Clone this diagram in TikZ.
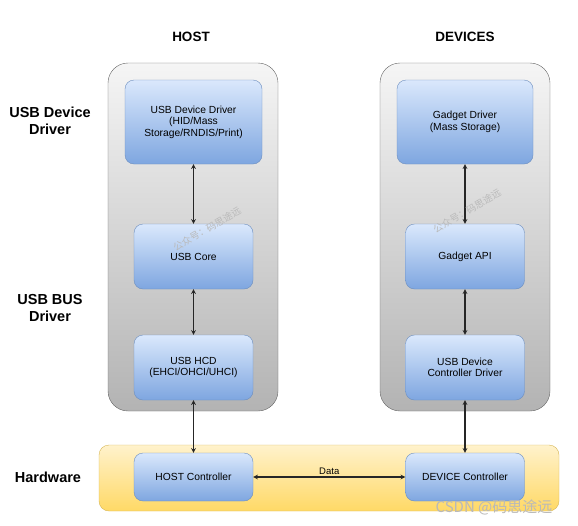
\documentclass[tikz,border=0pt]{standalone}
\usepackage{fontspec}
\setmainfont{Liberation Sans}
\newfontfamily\cjk{Noto Sans CJK SC}

\definecolor{blocktop}{HTML}{DAE8FC}
\definecolor{blockbottom}{HTML}{7EA6E0}
\definecolor{blockline}{HTML}{6C8EBF}
\definecolor{hwtop}{HTML}{FFF2CC}
\definecolor{hwbottom}{HTML}{FFD966}
\definecolor{hwline}{HTML}{D6B656}
\definecolor{layertop}{HTML}{F5F5F5}
\definecolor{layerbottom}{HTML}{B3B3B3}
\definecolor{layerline}{HTML}{666666}

\tikzset{
    layer/.style={draw=layerline, rounded corners=20pt, top color=layertop, bottom color=layerbottom,
        minimum width=170pt, minimum height=348pt},
    hwband/.style={draw=hwline, rounded corners=10pt, top color=hwtop, bottom color=hwbottom,
        minimum width=460pt, minimum height=66pt},
    block/.style={draw=blockline, rounded corners=9pt, top color=blocktop, bottom color=blockbottom,
        minimum width=119pt, minimum height=65pt, align=center, font=\fontsize{10.3}{11.5}\selectfont},
    sidelabel/.style={align=center, font=\bfseries\fontsize{14.5}{16.5}\selectfont},
    title/.style={font=\bfseries\fontsize{13.5}{15}\selectfont},
    watermark/.style={text=gray!55, rotate=30, font=\cjk\fontsize{9.5}{11}\selectfont},
    link/.style={<->, line width=1.1pt, black!85},
}

\begin{document}
\begin{tikzpicture}[x=1pt, y=-1pt, >=stealth]
    \useasboundingbox (0, 0) rectangle (578, 525);
    %\draw[lightgray] (0, 0) grid[step=50] (578, 525);
    \node[title] (hosttitle) at (191, 37) {HOST};
    \node[title] (devtitle) at (465, 37) {DEVICES};

    \node[sidelabel] (lbldriver) at (50, 121) {USB Device\\Driver};
    \node[sidelabel] (lblbus) at (50, 308) {USB BUS\\Driver};
    \node[sidelabel] (lblhw) at (48, 477) {Hardware};

    \node[layer] (host) at (193, 237) {};
    \node[layer] (devices) at (465, 237) {};
    \node[hwband] (hardware) at (329, 478) {};

    % host side
    \node[block, minimum width=137pt, minimum height=84pt] (usbdrv) at (193.5, 122) {USB Device Driver\\(HID/Mass\\Storage/RNDIS/Print)};
    \node[block] (usbcore) at (193.5, 256.5) {USB Core};
    \node[block] (usbhcd) at (193.5, 367.5) {USB HCD\\(EHCI/OHCI/UHCI)};
    \node[block, minimum height=48pt] (hostctrl) at (193.5, 477) {HOST Controller};

    % device side
    \node[block, minimum width=136pt, minimum height=84pt] (gadgetdrv) at (465, 122) {Gadget Driver\\(Mass Storage)};
    \node[block] (gadgetapi) at (465, 256.5) {Gadget API};
    \node[block] (udcdrv) at (465, 367.5) {USB Device\\Controller Driver};
    \node[block, minimum height=48pt] (devctrl) at (465, 477) {DEVICE Controller};

    \draw[link] (usbdrv) -- (usbcore);
    \draw[link] (usbcore) -- (usbhcd);
    \draw[link] (usbhcd) -- (hostctrl);
    \draw[link] (gadgetdrv) -- (gadgetapi);
    \draw[link] (gadgetapi) -- (udcdrv);
    \draw[link] (udcdrv) -- (devctrl);
    \draw[link] (hostctrl) -- node[above, black, font=\fontsize{9.5}{11}\selectfont, inner sep=2pt] (datalbl) {Data} (devctrl);

    % watermarks
    \node[watermark] (markhost) at (207, 229) {公众号：码思途远};
    \node[watermark] (markdev) at (467, 211) {公众号：码思途远};
    \node[text=gray!55, font=\cjk\fontsize{15}{17}\selectfont] (csdn) at (494, 507) {CSDN @码思途远};
\end{tikzpicture}
\end{document}
